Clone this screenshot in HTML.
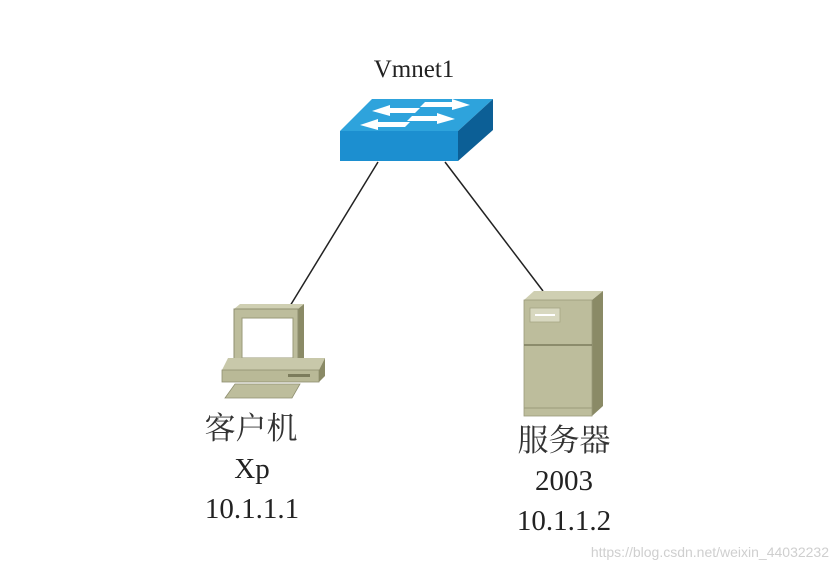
<!DOCTYPE html>
<html><head><meta charset="utf-8"><style>
html,body{margin:0;padding:0;background:#fff;width:836px;height:571px;overflow:hidden}
</style></head><body>
<svg width="836" height="571" viewBox="0 0 836 571" xmlns="http://www.w3.org/2000/svg">
<rect width="836" height="571" fill="#fff"/>
<line x1="378" y1="162" x2="290" y2="306" stroke="#222" stroke-width="1.5"/>
<line x1="445" y1="162" x2="543" y2="291" stroke="#222" stroke-width="1.5"/>
<polygon points="340,131 372,99 493,99 458,131" fill="#2ea3dc"/>
<rect x="340" y="131" width="118" height="30" fill="#1c8fd0"/>
<polygon points="458,131 493,99 493,130 458,161" fill="#0c5f96"/>
<g fill="#fff">
<polygon points="360,125 378,119 378,122 410,122 405,127 378,127 378,130"/>
<polygon points="372,111 390,105 390,108 420,108 415,113 390,113 390,116"/>
<polygon points="470,104 452,98 452,101 425,101 420,106 452,106 452,109" transform="translate(0,1)"/>
<polygon points="455,119 437,113 437,116 412,116 407,121 437,121 437,124"/>
</g>
<polygon points="234,309 240,304 304,304 298,309" fill="#cfcfb2"/>
<polygon points="298,309 304,304 304,360 298,365" fill="#8a8a66"/>
<rect x="234" y="309" width="64" height="56" fill="#bdbd9c" stroke="#8f8f70" stroke-width="1"/>
<rect x="242" y="318" width="51" height="40" fill="#fff" stroke="#9a9a7a"/>
<polygon points="222,370 228,358 325,358 319,370" fill="#c8c8aa"/>
<rect x="222" y="370" width="97" height="12" fill="#b9b997" stroke="#8f8f70" stroke-width="0.8"/>
<polygon points="319,370 325,358 325,376 319,382" fill="#8a8a66"/>
<rect x="288" y="374" width="22" height="3" fill="#7c7c5c"/>
<polygon points="225,398 235,384 300,384 292,398" fill="#bdbd9c" stroke="#8f8f70" stroke-width="0.8"/>
<polygon points="524,300 534,291 603,291 592,300" fill="#cfcfb2"/>
<polygon points="592,300 603,291 603,406 592,416" fill="#8a8a66"/>
<rect x="524" y="300" width="68" height="116" fill="#bdbd9c" stroke="#9a9a7a" stroke-width="0.8"/>
<rect x="530" y="308" width="30" height="14" fill="#d8d8c0" stroke="#a5a585" stroke-width="0.8"/>
<rect x="535" y="314" width="20" height="2" fill="#fff"/>
<line x1="524" y1="345" x2="592" y2="345" stroke="#7c7c5c" stroke-width="1.5"/>
<line x1="524" y1="408" x2="592" y2="408" stroke="#9a9a7a" stroke-width="1"/>
<g font-family="'Liberation Serif','Noto Serif CJK SC',serif" fill="#222" text-anchor="middle">
<text x="414" y="77" font-size="25">Vmnet1</text>
<text x="251" y="439" font-size="31" font-family="'Noto Serif CJK SC','Noto Sans CJK SC',serif" fill="#333">客户机</text>
<text x="252" y="478" font-size="29">Xp</text>
<text x="252" y="518" font-size="29">10.1.1.1</text>
<text x="564" y="451" font-size="31" font-family="'Noto Serif CJK SC','Noto Sans CJK SC',serif" fill="#333">服务器</text>
<text x="564" y="490" font-size="29">2003</text>
<text x="564" y="530" font-size="29">10.1.1.2</text>
</g>
<text x="829" y="557" font-family="'Liberation Sans',sans-serif" font-size="14" fill="#cfcfcf" text-anchor="end">https://blog.csdn.net/weixin_44032232</text>
</svg>
</body></html>
